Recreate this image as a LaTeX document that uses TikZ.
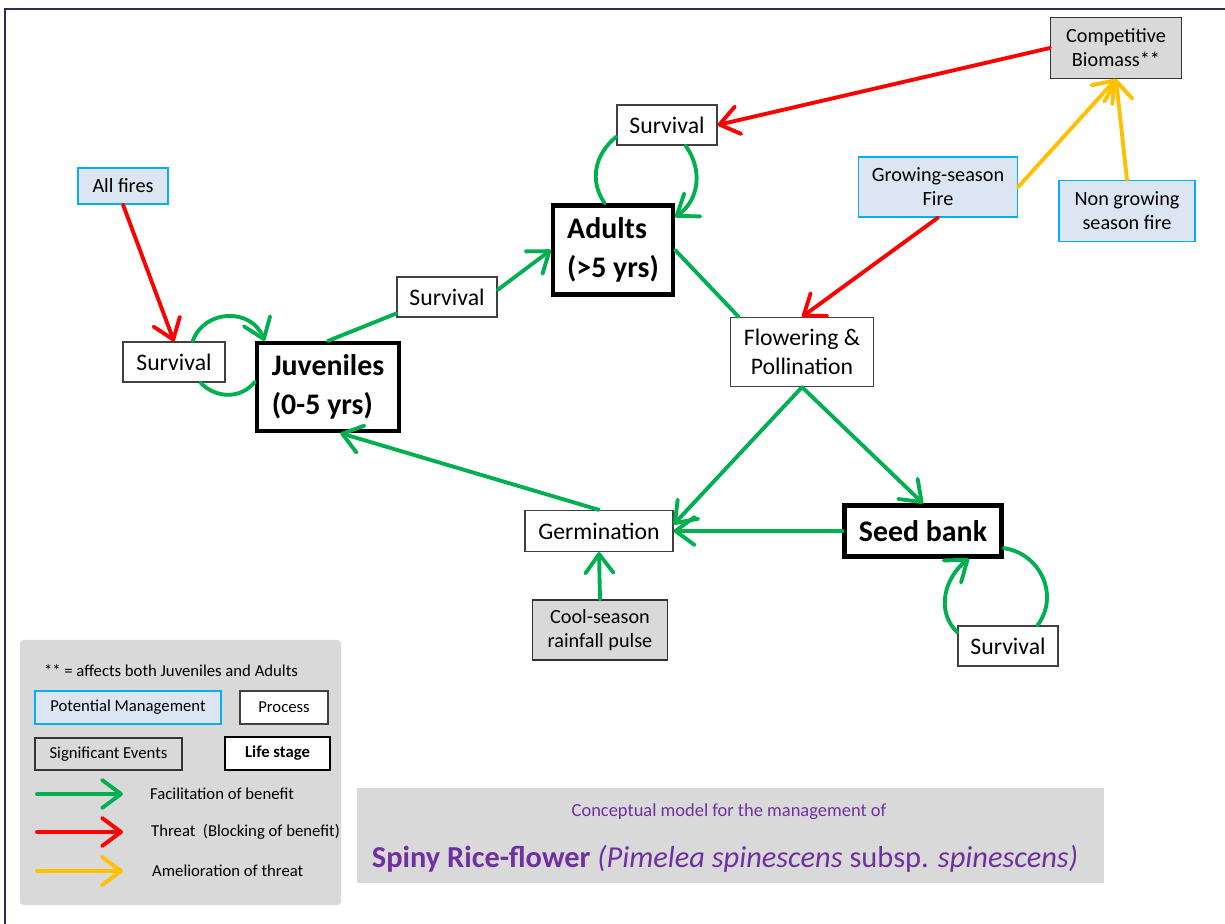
\documentclass[tikz,border=0pt]{standalone}
\usepackage{fontspec}
\setmainfont{Carlito}
\usepackage{xcolor}
\usetikzlibrary{arrows.meta}

\definecolor{benefitgreen}{HTML}{00B050}
\definecolor{threatred}{HTML}{FF0000}
\definecolor{reliefyellow}{HTML}{FFC000}
\definecolor{mgmtfill}{HTML}{DCE6F2}
\definecolor{mgmtedge}{HTML}{00B0F0}
\definecolor{eventfill}{HTML}{D9D9D9}
\definecolor{titlepurple}{HTML}{7030A0}
\definecolor{framenavy}{HTML}{2E2B5F}

\tikzset{
  process/.style={draw=black!75, line width=0.7pt, fill=white, align=center,
    font=\fontsize{13.5}{16.4}\selectfont},
  lifestage/.style={draw=black, line width=2.4pt, fill=white, align=left,
    font=\bfseries\fontsize{17}{22}\selectfont},
  mgmt/.style={draw=mgmtedge, line width=0.7pt, fill=mgmtfill, align=center,
    font=\fontsize{11.5}{13.6}\selectfont},
  event/.style={draw=black!80, line width=0.7pt, fill=eventfill, align=center,
    font=\fontsize{11.5}{13.6}\selectfont},
  keytext/.style={font=\fontsize{9.5}{11}\selectfont},
  link/.style={line width=2.2pt, line cap=round},
  tip/.style={-{Straight Barb[length=3.8mm,width=5.6mm,round]}},
  benefit/.style={link, benefitgreen},
  threat/.style={link, threatred},
  relief/.style={link, reliefyellow}
}

\begin{document}
\begin{tikzpicture}[x=0.2mm, y=-0.2mm]
\useasboundingbox (0,0) rectangle (1225,924);
\draw[framenavy, line width=0.45mm] (5,930) -- (5,9) -- (1230,9);

% nodes
\node[event, minimum width=26.2mm, minimum height=12.2mm] (comp) at (1116,48) {Competitive\\Biomass**};
\node[process, minimum width=20mm, minimum height=8mm] (survA) at (667,125) {Survival};
\node[lifestage, minimum width=24mm, minimum height=17.8mm] (adults) at (613,250) {Adults\\(>5 yrs)};
\node[mgmt, minimum width=18mm, minimum height=7.2mm] (allfire) at (123,186) {All fires};
\node[mgmt, minimum width=31.8mm, minimum height=12mm] (gfire) at (938,187) {Growing-season\\Fire};
\node[mgmt, minimum width=27.2mm, minimum height=12.2mm] (ngfire) at (1127,211) {Non growing\\season fire};
\node[process, minimum width=20mm, minimum height=8mm] (survM) at (447,297) {Survival};
\node[process, minimum width=20.4mm, minimum height=8mm] (survL) at (174,362) {Survival};
\node[lifestage, minimum width=28.4mm, minimum height=17.6mm] (juv) at (328,387) {Juveniles\\(0-5 yrs)};
\node[process, minimum width=28.6mm, minimum height=13.8mm] (flow) at (802,352) {Flowering \&\\Pollination};
\node[process, minimum width=29.6mm, minimum height=8.2mm] (germ) at (599,531) {Germination};
\node[lifestage, minimum width=31.4mm, minimum height=10.2mm] (seed) at (923,531) {Seed bank};
\node[event, minimum width=27mm, minimum height=12mm] (rain) at (600,630) {Cool-season\\rainfall pulse};
\node[process, minimum width=20mm, minimum height=8mm] (survS) at (1008,646) {Survival};

% connectors
\draw[threat, tip] (comp.west) -- (survA.east);
\draw[threat, tip] (allfire.south) -- (survL.north);
\draw[threat, tip] (gfire.south) -- (flow.north);
\draw[relief, tip] (gfire.east) -- (comp.south);
\draw[relief, tip] (ngfire.north) -- (comp.south);

\draw[benefit] (survA.193) to[out=219, in=125, looseness=1.05] (adults.100);
\draw[benefit, tip] (survA.312) to[out=-54, in=35, looseness=1.05] (adults.28);
\draw[benefit, tip] (survL.48) to[out=70, in=111, looseness=1.25] (juv.144);
\draw[benefit] (survL.322) to[out=-46, in=231, looseness=1.05] (juv.176);
\draw[benefit, tip] (survS.165) to[out=136, in=218, looseness=1.05] (seed.329);
\draw[benefit] (seed.348) to[out=-8, in=53, looseness=1.13] (survS.35);

\draw[benefit] (juv.north) -- (survM.198);
\draw[benefit, tip] (survM.8) -- (adults.west);
\draw[benefit] (adults.east) -- (flow.151);
\draw[benefit, tip] (flow.south) -- (germ.5);
\draw[benefit, tip] (flow.south) -- (seed.north);
\draw[benefit, tip] (seed.west) -- (germ.east);
\draw[benefit, tip] (germ.north) -- (juv.285);
\draw[benefit, tip] (rain.north) -- (germ.south);

% key
\node[fill=eventfill, rounded corners=2pt, minimum width=64.2mm, minimum height=53mm] (key) at (180.5,772.5) {};
\node[keytext] (keynote) at (171,671) {** = affects both Juveniles and Adults};
\node[mgmt, keytext, minimum width=37.2mm, minimum height=6.6mm] (keymgmt) at (128,707.5) {Potential Management};
\node[process, keytext, minimum width=17.6mm, minimum height=6.6mm] (keyproc) at (284,707.5) {Process};
\node[event, keytext, fill=eventfill, minimum width=29.4mm, minimum height=6.4mm] (keyevent) at (108.5,754) {Significant Events};
\node[lifestage, keytext, font=\bfseries\fontsize{9.5}{11}\selectfont, line width=1.6pt, minimum width=21mm, minimum height=6.6mm] (keylife) at (277.5,753.5) {Life stage};
\coordinate (g0) at (37,794); \coordinate (g1) at (123,794);
\coordinate (r0) at (37,832); \coordinate (r1) at (123,832);
\coordinate (y0) at (37,871); \coordinate (y1) at (123,871);
\draw[benefit, tip] (g0) -- (g1);
\draw[threat, tip] (r0) -- (r1);
\draw[relief, tip] (y0) -- (y1);
\node[keytext, anchor=west] (keyg) at (144,794) {Facilitation of benefit};
\node[keytext, anchor=west] (keyr) at (145,832) {Threat\ \ (Blocking of benefit)};
\node[keytext, anchor=west] (keyy) at (146,871) {Amelioration of threat};

% title
\node[fill=eventfill, minimum width=149.4mm, minimum height=19mm] (title) at (730.5,835.5) {};
\node[titlepurple, font=\fontsize{10.5}{12}\selectfont] (subtitle) at (729,812) {Conceptual model for the management of};
\node[titlepurple, font=\fontsize{17.3}{20}\selectfont] (maintitle) at (725,859)
  {\textbf{Spiny Rice-flower} \textit{(Pimelea spinescens} subsp. \textit{spinescens)}};
\end{tikzpicture}
\end{document}
